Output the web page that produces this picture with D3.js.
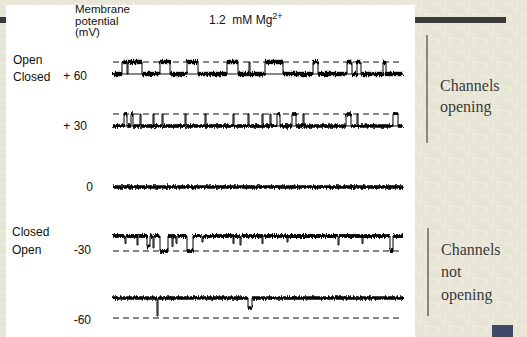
<!DOCTYPE html>
<html>
<head>
<meta charset="UTF-8">
<script src="https://d3js.org/d3.v7.min.js"></script>
<style>
  body { margin: 0; background: #e8e7d7; }
  svg { display: block; }
  .lbl { font-family: "Liberation Sans", Arial, sans-serif; font-size: 12px; fill: #111; }
  .small { font-size: 11.5px; }
  .side { font-family: "Liberation Serif", "Times New Roman", serif; font-size: 16px; fill: #3a3a3a; }
</style>
</head>
<body>
<div id="chart"></div>
<script>
// recording rows (membrane potential, mV)
const voltages = ['+60', '+30', '0', '-30', '-60'];
// single-channel amplitude per row, pA (sign = direction of opening)
const amplitudes = [2.4, 2.4, 0, -3.0, -4.0];
// events per row: [start ms, end ms, fraction of full opening]
const events60 = [[9, 14, 1], [15, 29, 1], [47, 57, 1], [74, 85, 1], [114, 125, 1], [136, 137, 1],
  [152, 170, 1], [200, 205, 1], [234, 239, 1], [244, 248, 1], [270, 273, 1]];
const events30 = [[11, 14, 1], [18, 20, 1], [27, 28, 1], [40, 41, 1], [49, 50, 1], [72, 73, 1],
  [92, 93, 1], [120, 121, 1], [135, 136, 1], [149, 150, 1], [157, 158, 1], [164, 167, 1],
  [179, 183, 1], [190, 191, 1], [233, 238, 1], [244, 245, 1], [280, 285, 1]];
const events0 = [];
const eventsM30 = [[12, 13, 0.5], [24, 25, 0.6], [34, 37, 0.7], [40, 41, 0.8], [47, 55, 1],
  [59, 60, 0.7], [63, 64, 0.5], [74, 80, 1], [89, 90, 0.4], [120, 121, 0.5], [127, 128, 0.6],
  [149, 150, 0.5], [174, 175, 0.4], [225, 226, 0.6], [249, 250, 0.5], [277, 280, 1]];
const eventsM60 = [[44, 45, 0.9], [135, 139, 0.5]];
const allEvents = [events60, events30, events0, eventsM30, eventsM60];
const sweepMs = 290;

// layout
const W = 527, H = 337;
const rowClosedY = [74, 126, 187, 236, 298];
const pxPerPA = 5;
const traceWidth = [4.4, 3.6, 3.6, 3.8, 3.6];

const svg = d3.select('#chart').append('svg').attr('width', W).attr('height', H);

// slide background texture
const defs = svg.append('defs');
const pat = defs.append('pattern').attr('id', 'tex').attr('width', 24).attr('height', 24)
  .attr('patternUnits', 'userSpaceOnUse');
pat.append('rect').attr('width', 24).attr('height', 24).attr('fill', '#e8e7d7');
[[2, 3, 9, 6], [14, 2, 12, 10], [4, 14, 8, 20], [16, 15, 22, 13], [10, 8, 13, 15], [19, 19, 17, 23]]
  .forEach(s => pat.append('line').attr('x1', s[0]).attr('y1', s[1]).attr('x2', s[2]).attr('y2', s[3])
    .attr('stroke', '#f4f3e8').attr('stroke-width', 1));
[[7, 10, 3, 12], [20, 5, 23, 9], [12, 20, 15, 18]]
  .forEach(s => pat.append('line').attr('x1', s[0]).attr('y1', s[1]).attr('x2', s[2]).attr('y2', s[3])
    .attr('stroke', '#dddbc8').attr('stroke-width', 1));
svg.append('rect').attr('width', W).attr('height', H).attr('fill', 'url(#tex)');

// recording noise look for the dwell segments
const f = defs.append('filter').attr('id', 'noise').attr('filterUnits', 'userSpaceOnUse')
  .attr('x', 0).attr('y', 0).attr('width', W).attr('height', H);
f.append('feTurbulence').attr('type', 'fractalNoise').attr('baseFrequency', '1.1 0.15')
  .attr('numOctaves', 2).attr('seed', 7).attr('result', 't');
f.append('feDisplacementMap').attr('in', 'SourceGraphic').attr('in2', 't').attr('scale', 4.5)
  .attr('xChannelSelector', 'R').attr('yChannelSelector', 'G');

// top title bar and decorations
svg.append('rect').attr('x', 0).attr('y', 17).attr('width', 506).attr('height', 6).attr('fill', '#3a3a3a');
svg.append('rect').attr('x', 6).attr('y', 5).attr('width', 409).attr('height', H - 5).attr('fill', '#fff');
svg.append('rect').attr('x', 492).attr('y', 325).attr('width', 21).attr('height', 12).attr('fill', '#3d4966');

const x = d3.scaleLinear().domain([0, sweepMs]).range([113, 403]);
const g = svg.append('g');

voltages.forEach((v, i) => {
  const amp = amplitudes[i];
  // current (pA) -> y for this row
  const y = d3.scaleLinear().domain([0, 1]).range([rowClosedY[i], rowClosedY[i] - pxPerPA]);
  if (amp !== 0) {
    g.append('line').attr('x1', x(0)).attr('x2', x(sweepMs)).attr('y1', y(amp)).attr('y2', y(amp))
      .attr('stroke', '#111').attr('stroke-width', 1.2).attr('stroke-dasharray', '6,4');
  }
  if (amp > 0) {
    g.append('line').attr('x1', x(0)).attr('x2', x(sweepMs)).attr('y1', y(0)).attr('y2', y(0))
      .attr('stroke', '#111').attr('stroke-width', 1.2);
  }
  // dwell segments: [t0, t1, current]
  const dwells = [];
  let tPrev = 0;
  allEvents[i].forEach(e => {
    dwells.push([tPrev, e[0], 0]);
    dwells.push([e[0], e[1], e[2] * amp]);
    tPrev = e[1];
  });
  dwells.push([tPrev, sweepMs, 0]);
  // thin transitions
  const pts = [];
  dwells.forEach(d => { pts.push([d[0], d[2]], [d[1], d[2]]); });
  const line = d3.line().x(d => x(d[0])).y(d => y(d[1]));
  g.append('path').attr('d', line(pts)).attr('fill', 'none').attr('stroke', '#000').attr('stroke-width', 1);
  // thick noisy dwells
  g.append('g').attr('filter', 'url(#noise)').selectAll('line').data(dwells.filter(d => d[1] - d[0] > 1.5))
    .join('line')
    .attr('x1', d => x(d[0])).attr('x2', d => x(d[1]))
    .attr('y1', d => y(d[2])).attr('y2', d => y(d[2]))
    .attr('stroke', '#000').attr('stroke-width', traceWidth[i]);
});

// labels
const lbl = (tx, ty, s, anchor) => svg.append('text').attr('class', 'lbl').attr('x', tx).attr('y', ty)
  .attr('text-anchor', anchor || 'start').style('white-space', 'pre').text(s);
lbl(75, 13, 'Membrane').classed('small', true);
lbl(75, 24.5, 'potential').classed('small', true);
lbl(75, 36, '(mV)').classed('small', true);
const t = lbl(209, 24, '1.2  mM Mg');
t.append('tspan').attr('dy', -5).style('font-size', '9px').text('2+');
lbl(13, 64, 'Open'); lbl(13, 81, 'Closed');
lbl(12, 236, 'Closed'); lbl(12, 254, 'Open');
const labelX = [87, 87, 93, 91, 91];
const labelY = [80, 130, 191, 254, 324];
voltages.forEach((v, i) => lbl(labelX[i], labelY[i], v.replace('+', '+ '), 'end'));

// side notes
svg.append('line').attr('x1', 427).attr('x2', 427).attr('y1', 35).attr('y2', 143).attr('stroke', '#666').attr('stroke-width', 1.5);
svg.append('line').attr('x1', 428).attr('x2', 428).attr('y1', 228).attr('y2', 316).attr('stroke', '#666').attr('stroke-width', 1.5);
const side = (tx, ty, s) => svg.append('text').attr('class', 'side').attr('x', tx).attr('y', ty).text(s);
side(440, 91, 'Channels'); side(440, 112, 'opening');
side(441, 255, 'Channels'); side(441, 277, 'not'); side(441, 300, 'opening');
</script>
</body>
</html>
